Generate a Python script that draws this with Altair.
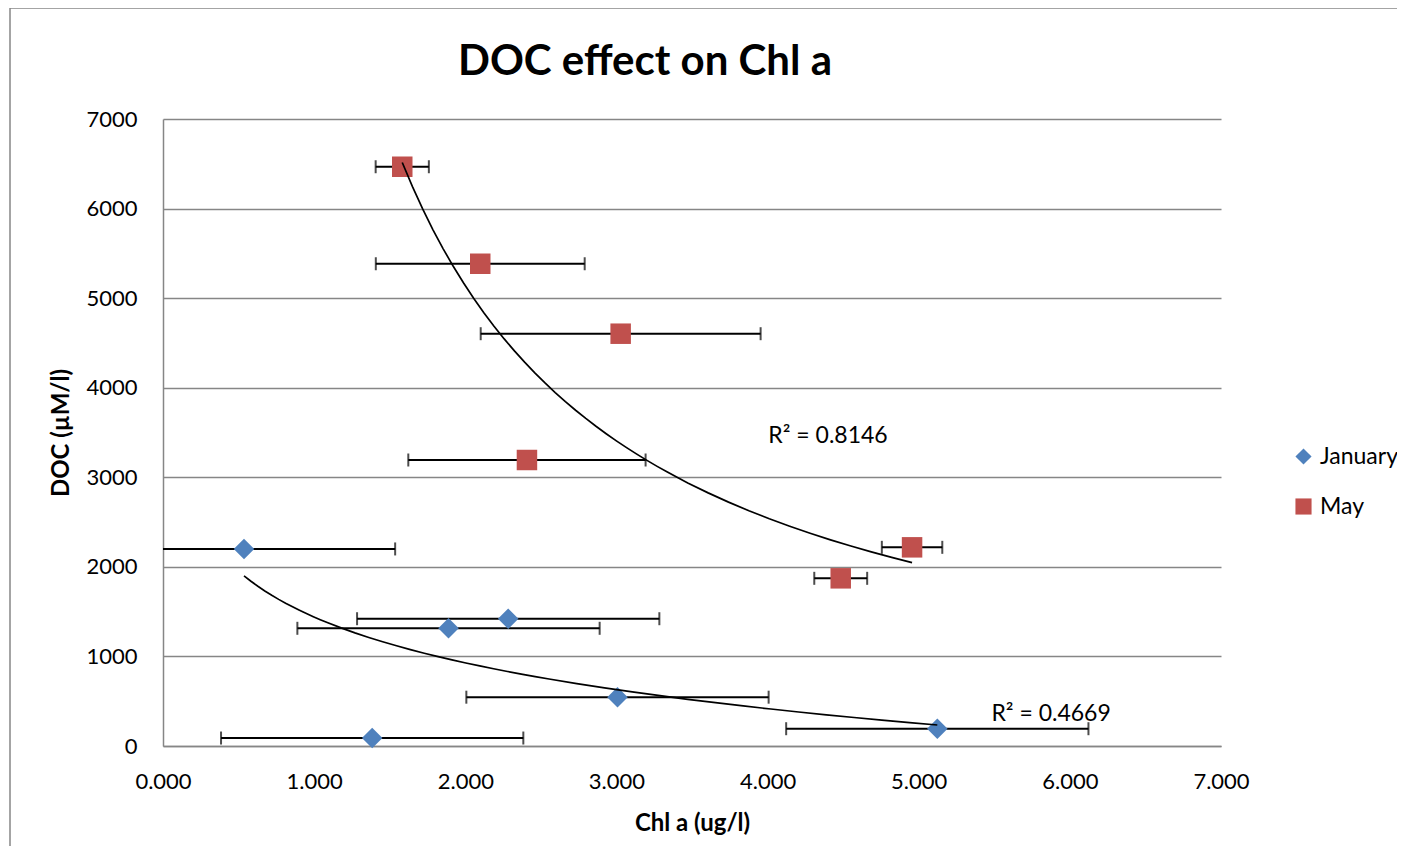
import altair as alt
import pandas as pd

# ---- data ----
months = ["January", "May"]
jan_x = [0.536, 2.284, 1.889, 3.007, 1.384, 5.123]
jan_y = [2200, 1421, 1314, 545, 89, 193]
jan_err = [1.0, 1.0, 1.0, 1.0, 1.0, 1.0]
may_x = [1.583, 2.099, 3.028, 2.408, 4.956, 4.484]
may_y = [6467, 5384, 4603, 3193, 2218, 1872]
may_err = [0.176, 0.691, 0.926, 0.785, 0.2, 0.175]
r2_text = ["R² = 0.4669", "R² = 0.8146"]
r2_x = [5.876, 4.40]
r2_y = [357, 3461]
x_ticks = [0, 1, 2, 3, 4, 5, 6, 7]
y_ticks = [0, 1000, 2000, 3000, 4000, 5000, 6000, 7000]
title_text = ["DOC effect on Chl a"]

rows = []
for m, xs, ys, es in [("January", jan_x, jan_y, jan_err), ("May", may_x, may_y, may_err)]:
    for x, y, e in zip(xs, ys, es):
        rows.append({"month": m, "x": x, "y": y, "lo": x - e, "hi": x + e})
df = pd.DataFrame(rows)
lab = pd.DataFrame({"t": r2_text, "x": r2_x, "y": r2_y})

FONT = "Lato"
GREY = "#868686"
W, H = 1058, 627

xs = alt.Scale(domain=[0, 7], nice=False, zero=False)
ys = alt.Scale(domain=[0, 7000], nice=False)

base = alt.Chart(df)

border = alt.Chart(pd.DataFrame({"a": [0]})).mark_rect(
    fillOpacity=0, stroke=GREY, strokeWidth=1.5
).encode(
    x=alt.value(-153), x2=alt.value(1300), y=alt.value(-111), y2=alt.value(780)
)

title = alt.Chart(pd.DataFrame({"t": title_text})).mark_text(
    font=FONT, fontSize=42, fontWeight="bold", color="black", baseline="middle"
).encode(x=alt.value(482), y=alt.value(-57), text="t:N")

errbars = base.mark_rule(color="black", strokeWidth=2, clip=True).encode(
    x=alt.X("lo:Q", scale=xs), x2="hi:Q", y=alt.Y("y:Q", scale=ys)
)
cap_lo = base.mark_tick(color="black", thickness=2, size=13, orient="vertical", clip=True).encode(
    x=alt.X("lo:Q", scale=xs), y=alt.Y("y:Q", scale=ys)
)
cap_hi = base.mark_tick(color="black", thickness=2, size=13, orient="vertical", clip=True).encode(
    x=alt.X("hi:Q", scale=xs), y=alt.Y("y:Q", scale=ys)
)

leg = alt.Legend(
    title=None, orient="none", legendX=1129, legendY=326,
    labelFont=FONT, labelFontSize=23, labelColor="black",
    symbolSize=260, rowPadding=26, labelOffset=5, symbolStrokeWidth=0,
)
points = base.mark_point(filled=True, opacity=1, size=420, strokeWidth=0).encode(
    x=alt.X(
        "x:Q", scale=xs, title="Chl a (ug/l)",
        axis=alt.Axis(values=x_ticks, format=".3f", grid=False, ticks=False,
                      domainColor=GREY, domainWidth=1.5, labelPadding=25,
                      labelFlush=False, titlePadding=19),
    ),
    y=alt.Y(
        "y:Q", scale=ys, title="DOC (µM/l)",
        axis=alt.Axis(values=y_ticks, format="d", grid=True, gridColor=GREY,
                      gridWidth=1.5, ticks=False, domainColor=GREY, domainWidth=1.5,
                      labelPadding=26, titlePadding=12),
    ),
    color=alt.Color("month:N", scale=alt.Scale(domain=months, range=["#4F81BD", "#C0504D"]), legend=leg),
    shape=alt.Shape("month:N", scale=alt.Scale(domain=months, range=["diamond", "square"]), legend=leg),
)

trend_may = base.transform_filter(alt.datum.month == "May").transform_regression(
    "x", "y", method="pow"
).mark_line(color="black", strokeWidth=1.7).encode(
    x=alt.X("x:Q", scale=xs), y=alt.Y("y:Q", scale=ys)
)
trend_jan = base.transform_filter(alt.datum.month == "January").transform_regression(
    "x", "y", method="log"
).mark_line(color="black", strokeWidth=1.7).encode(
    x=alt.X("x:Q", scale=xs), y=alt.Y("y:Q", scale=ys)
)

labels = alt.Chart(lab).mark_text(font=FONT, fontSize=23, color="black").encode(
    x=alt.X("x:Q", scale=xs), y=alt.Y("y:Q", scale=ys), text="t:N"
)

chart = alt.layer(border, title, errbars, cap_lo, cap_hi, points, trend_may, trend_jan, labels).properties(
    width=W, height=H,
    autosize=alt.AutoSizeParams(type="none"),
    padding={"left": 155, "top": 111, "right": 176, "bottom": 100},
).configure_view(stroke=None).configure_axis(
    labelFont=FONT, labelFontSize=22, labelColor="black",
    titleFont=FONT, titleFontSize=24, titleFontWeight="bold", titleColor="black",
)

chart.save("out.html", embed_options={"renderer": "svg", "actions": False})
